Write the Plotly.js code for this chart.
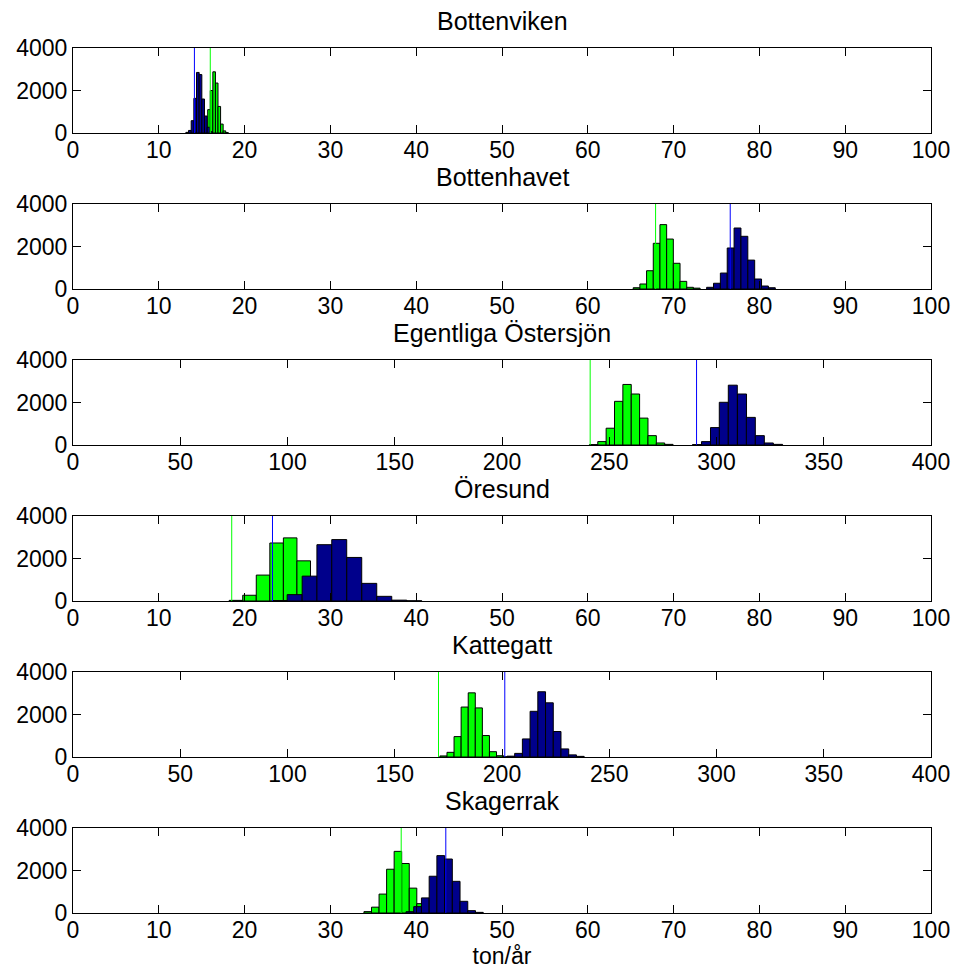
<!DOCTYPE html>
<html>
<head>
<meta charset="utf-8">
<script src="https://cdn.plot.ly/plotly-3.0.1.min.js"></script>
<style>
  html, body { margin: 0; padding: 0; background: #ffffff; }
  #chart { width: 957px; height: 972px; }
</style>
</head>
<body>
<div id="chart"></div>
<script>
// ---- Data ----
const titles = ["Bottenviken", "Bottenhavet", "Egentliga Östersjön", "Öresund", "Kattegatt", "Skagerrak"];
const xMax = [100, 100, 400, 100, 400, 100];
const xTickStep = [10, 10, 50, 10, 50, 10];
const yTicks = [0, 2000, 4000];
const xLabel = "ton/år";

// vertical reference lines (green, blue) per region
const greenLine = [16.0, 67.9, 241.1, 18.5, 170.4, 38.25];
const blueLine  = [14.15, 76.6, 290.7, 23.25, 201.3, 43.45];

// Bottenviken
const greenCenters1 = [15.25, 15.55, 15.85, 16.15, 16.45, 16.75, 17.05, 17.35, 17.65, 17.95];
const greenCounts1  = [10, 150, 1100, 2000, 2880, 2350, 1250, 420, 100, 20];
const blueCenters1  = [13.31, 13.62, 13.93, 14.24, 14.55, 14.86, 15.17, 15.48, 15.79, 16.10];
const blueCounts1   = [30, 120, 580, 1630, 2850, 2750, 1600, 800, 270, 60];

// Bottenhavet
const greenCenters2 = [65.68, 66.46, 67.24, 68.02, 68.8, 69.58, 70.36, 71.14, 71.92, 72.7];
const greenCounts2  = [60, 235, 860, 2150, 3030, 2350, 1210, 360, 80, 40];
const blueCenters2  = [74.25, 75.05, 75.85, 76.65, 77.45, 78.25, 79.05, 79.85, 80.65, 81.45];
const blueCounts2   = [80, 270, 750, 1930, 2870, 2480, 1360, 470, 140, 60];

// Egentliga Östersjön
const greenCenters3 = [242.7, 246.6, 250.5, 254.4, 258.3, 262.2, 266.1, 270.0, 273.9, 277.8];
const greenCounts3  = [20, 160, 790, 2055, 2850, 2400, 1265, 440, 95, 30];
const blueCenters3  = [290.9, 295.1, 299.3, 303.4, 307.6, 311.9, 316.0, 320.2, 324.4, 328.7];
const blueCounts3   = [20, 160, 820, 2010, 2815, 2400, 1300, 440, 95, 30];

// Öresund
const greenCenters4 = [18.99, 20.57, 22.15, 23.73, 25.31, 26.89, 28.47, 30.05, 31.63, 33.21];
const greenCounts4  = [30, 270, 1220, 2730, 2970, 1890, 800, 250, 60, 10];
const blueCenters4  = [24.1, 25.83, 27.58, 29.3, 31.03, 32.78, 34.53, 36.28, 38.03, 39.78];
const blueCounts4   = [20, 300, 1170, 2650, 2890, 2050, 830, 220, 40, 10];

// Kattegatt
const greenCenters5 = [172.7, 176.0, 179.3, 182.6, 185.9, 189.2, 192.5, 195.8, 199.1, 202.4];
const greenCounts5  = [50, 220, 960, 2350, 3020, 2310, 1010, 250, 60, 10];
const blueCenters5  = [204.1, 207.7, 211.3, 214.9, 218.5, 222.1, 225.7, 229.3, 232.9, 236.5];
const blueCounts5   = [40, 170, 850, 2150, 3070, 2550, 1200, 380, 100, 30];

// Skagerrak
const greenCenters6 = [34.35, 35.23, 36.11, 36.99, 37.87, 38.75, 39.63, 40.51, 41.39, 42.27];
const greenCounts6  = [65, 275, 890, 2060, 2900, 2330, 1170, 440, 100, 20];
const blueCenters6  = [39.26, 40.16, 41.06, 41.96, 42.86, 43.76, 44.66, 45.56, 46.46, 47.36];
const blueCounts6   = [60, 300, 710, 1730, 2700, 2540, 1490, 550, 110, 30];

const greenCenters = [greenCenters1, greenCenters2, greenCenters3, greenCenters4, greenCenters5, greenCenters6];
const greenCounts  = [greenCounts1, greenCounts2, greenCounts3, greenCounts4, greenCounts5, greenCounts6];
const blueCenters  = [blueCenters1, blueCenters2, blueCenters3, blueCenters4, blueCenters5, blueCenters6];
const blueCounts   = [blueCounts1, blueCounts2, blueCounts3, blueCounts4, blueCounts5, blueCounts6];

// ---- Styling ----
const FONT = "Liberation Sans, Arial, Helvetica, sans-serif";
const GREEN_FILL = "#00ff00";
const BLUE_FILL = "#00008b";
const EDGE = "#000000";

function binWidth(c) { return (c[c.length - 1] - c[0]) / (c.length - 1); }

const traces = [];
const layout = {
  width: 957, height: 972,
  margin: { l: 73, r: 26, t: 48, b: 59, pad: 0 },
  paper_bgcolor: "#ffffff", plot_bgcolor: "#ffffff",
  barmode: "overlay", bargap: 0,
  showlegend: false,
  font: { family: FONT, size: 23, color: "#000000" },
  annotations: []
};

const H = 865;       // total plotting height in px
const step = 156;    // px between subplot tops
const ph = 85;       // subplot height in px

for (let k = 0; k < 6; k++) {
  const n = k + 1;
  const xa = "x" + (n === 1 ? "" : n);
  const ya = "y" + (n === 1 ? "" : n);
  const top = (H - step * k) / H;
  const bottom = (H - step * k - ph) / H;

  traces.push({
    type: "bar", xaxis: xa, yaxis: ya,
    x: greenCenters[k], y: greenCounts[k], width: binWidth(greenCenters[k]),
    marker: { color: GREEN_FILL, line: { color: EDGE, width: 1 } },
    hoverinfo: "skip"
  });
  traces.push({
    type: "bar", xaxis: xa, yaxis: ya,
    x: blueCenters[k], y: blueCounts[k], width: binWidth(blueCenters[k]),
    marker: { color: BLUE_FILL, line: { color: EDGE, width: 1 } },
    hoverinfo: "skip"
  });
  traces.push({
    type: "scatter", mode: "lines", xaxis: xa, yaxis: ya,
    x: [greenLine[k], greenLine[k]], y: [yTicks[0], yTicks[yTicks.length - 1]],
    line: { color: "#00ff00", width: 1 }, hoverinfo: "skip"
  });
  traces.push({
    type: "scatter", mode: "lines", xaxis: xa, yaxis: ya,
    x: [blueLine[k], blueLine[k]], y: [yTicks[0], yTicks[yTicks.length - 1]],
    line: { color: "#0000ff", width: 1 }, hoverinfo: "skip"
  });

  const common = {
    showline: true, linecolor: "#000000", linewidth: 1, mirror: "ticks",
    ticks: "inside", ticklen: 8, tickwidth: 1, tickcolor: "#000000",
    showgrid: false, zeroline: false, fixedrange: true,
    tickfont: { family: FONT, size: 23, color: "#000000" }
  };

  layout["xaxis" + (n === 1 ? "" : n)] = Object.assign({}, common, {
    domain: [0, 1], anchor: ya,
    range: [0, xMax[k]], tick0: 0, dtick: xTickStep[k],
    ticklabelstandoff: -4
  });
  layout["yaxis" + (n === 1 ? "" : n)] = Object.assign({}, common, {
    domain: [bottom, top], anchor: xa,
    range: [yTicks[0], yTicks[yTicks.length - 1]], tickvals: yTicks,
    ticktext: yTicks.map(String),
    ticklabelstandoff: 0
  });

  layout.annotations.push({
    text: titles[k], xref: "paper", yref: "paper",
    x: 0.5, y: top, xanchor: "center", yanchor: "bottom",
    yshift: 11, showarrow: false,
    font: { family: FONT, size: 25, color: "#000000" }
  });
}

layout.xaxis6.title = { text: xLabel, font: { family: FONT, size: 23, color: "#000000" }, standoff: 4 };

Plotly.newPlot("chart", traces, layout, { displayModeBar: false, staticPlot: true });
</script>
</body>
</html>
